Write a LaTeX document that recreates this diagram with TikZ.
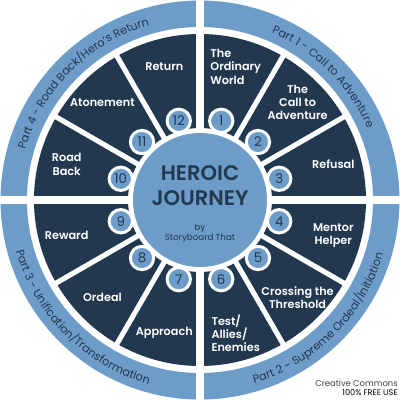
\documentclass[tikz,border=0pt]{standalone}
\usepackage{fontspec}
\setmainfont{Poppins}
\newfontfamily\semifont{Poppins SemiBold}
\usepackage{xcolor}
\usetikzlibrary{decorations.text}
\definecolor{ringblue}{HTML}{6D9CC9}
\definecolor{navy}{HTML}{22384F}

\begin{document}
\begin{tikzpicture}[scale = 0.025,
        stage/.style = {text = white, align = #1, inner sep = 0pt,
          font = \fontsize{8}{9.5}\semifont},
        number/.style = {circle, fill = ringblue, draw = white, line width = 2.1pt,
          minimum size = 16.6pt, inner sep = 0pt, text = navy,
          font = \fontsize{9.5}{9.5}\selectfont},
        part/.style = {decorate, decoration = {text along path, text align = center,
            text = {|\fontsize{8}{8}\selectfont\color{navy}|#1}}}]
        \useasboundingbox (-200,-200) rectangle (200,200);
        \fill[ringblue, even odd rule] (0,0) circle (199.5) circle (173);
        \fill[navy, even odd rule] (0,0) circle (166) circle (72);
        \foreach \a in {0,30,...,330}
          \draw[white, line width = 3.6pt] (0,0) -- (\a:170);
        \foreach \a in {0,90,180,270}
          \draw[white, line width = 5.3pt] (0,0) -- (\a:205);
        \fill[ringblue] (0,0) circle (67);

        \path[part = {Part 1 - Call to Adventure}] (90:182) arc (90:0:182);
        \path[part = {Part 2 - Supreme Ordeal/Initiation}] (270:191) arc (270:360:191);
        \path[part = {Part 3 - Unification/Transformation}] (180:191) arc (180:270:191);
        \path[part = {Part 4 - Road Back/Hero's Return}] (180:182) arc (180:90:182);

        \foreach \n/\al/\t in {1/left/{The\\Ordinary\\World}, 2/center/{The\\Call to\\Adventure},
            3/center/Refusal, 4/center/{Mentor\\Helper}, 5/center/{Crossing the\\Threshold},
            6/left/{Test/\\Allies/\\Enemies}, 7/center/Approach, 8/center/Ordeal,
            9/center/Reward, 10/center/{Road\\Back}, 11/center/Atonement, 12/center/Return}{
          \node[stage = \al] (stage\n) at ({105-30*\n}:138) {\t};
          \node[number] (num\n) at ({105-30*\n}:82) {\n};
        }

        \node[text = navy, align = center, inner sep = 0pt,
          font = \fontsize{15}{17.8}\semifont] (title) at (0,14.5) {HEROIC\\JOURNEY};
        \node[text = navy, align = center, inner sep = 0pt,
          font = \fontsize{6.2}{7}\selectfont] (credit) at (0,-33) {by\\Storyboard That};

        \node[anchor = east, text = black!75, inner sep = 0pt,
          font = \fontsize{6}{6}\selectfont] (cc) at (198,-183) {Creative Commons};
        \node[anchor = east, text = black, inner sep = 0pt,
          font = \fontsize{5.8}{6}\selectfont] (free) at (198,-193) {100\% FREE USE};
      \end{tikzpicture}
\end{document}
